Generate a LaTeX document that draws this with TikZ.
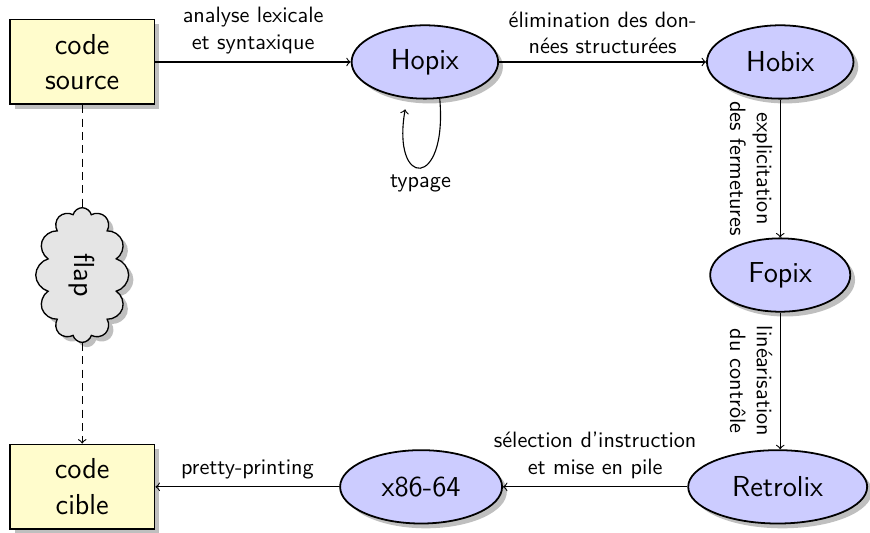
\documentclass[tikz,border=0pt]{standalone}
\usepackage{tikz}
\usetikzlibrary{arrows,shapes,shapes.geometric,shapes.symbols,shadows}

\begin{document}
\begin{tikzpicture}

	\tikzstyle{every node}=[font=\sffamily]
	\tikzstyle{every path}=[line width=0.5pt]
	\tikzstyle{lang}=[ellipse, draw, thick, fill=blue!20, drop shadow, inner xsep=8pt, inner ysep=2pt, minimum height=1.16cm, font=\sffamily\fontsize{13}{15}\selectfont]
	\tikzstyle{codebox}=[rectangle, draw, thick, fill=yellow!20, drop shadow, minimum width=2.29cm, minimum height=1.34cm, align=center, font=\sffamily\fontsize{13}{16}\selectfont]
	\tikzstyle{toolcloud}=[cloud, cloud puffs=12, cloud ignores aspect, draw, semithick, fill=gray!20, drop shadow, minimum width=1.47cm, minimum height=2.13cm, font=\sffamily\fontsize{13}{15}\selectfont]
	\tikzstyle{flow}=[dash pattern=on 3.6pt off 2.4pt]

	\useasboundingbox (0,0) rectangle (13.76,-8.43);

	\node[codebox] (src) at (1.30,-0.98) {code\\source};
	\node[lang] (hopix) at (6.72,-0.98) {Hopix};
	\node[lang] (hobix) at (12.34,-0.98) {Hobix};
	\node[lang] (fopix) at (12.34,-4.35) {Fopix};
	\node[lang] (retrolix) at (12.30,-7.70) {Retrolix};
	\node[lang] (xasm) at (6.66,-7.70) {x86-64};
	\node[codebox] (tgt) at (1.30,-7.70) {code\\cible};
	\node[toolcloud] (flap) at (1.30,-4.35) {\rotatebox{-90}{flap}};

	\draw[->] (src) -- node[above, align=center] {analyse lexicale\\et syntaxique} (hopix);
	\draw[->] (hopix) -- node[above, align=center] {élimination des don-\\nées structurées} (hobix);
	\draw[->] (hobix) -- node[below, rotate=-90, align=center] {explicitation\\des fermetures} (fopix);
	\draw[->] (fopix) -- node[below, rotate=-90, align=center] {linéarisation\\du contrôle} (retrolix.north -| fopix);
	\draw[->] (retrolix) -- node[above, align=center] {sélection d'instruction\\et mise en pile} (xasm);
	\draw[->] (xasm) -- node[above] {pretty-printing} (tgt);

	% typage
	\draw[->, shorten >=5pt] (hopix.-68) to[out=-85, in=-100, min distance=1.45cm] node[below] {typage} (hopix.-116);

	\draw[flow] (src) -- (flap);
	\draw[flow, ->] (flap) -- (tgt);

\end{tikzpicture}
\end{document}
